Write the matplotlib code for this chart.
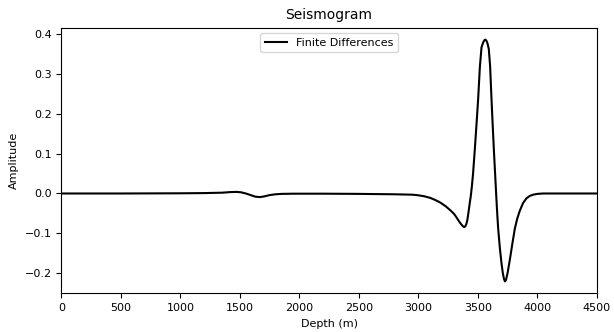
import matplotlib
matplotlib.use("Agg")
import matplotlib.pyplot as plt

# receiver trace, depth (m) vs amplitude
depth = [0, 500, 1000, 1200, 1350, 1420, 1470, 1510, 1550, 1590, 1630, 1670,
         1710, 1750, 1800, 1850, 1950, 2200, 2500, 2800, 2950, 3000, 3050,
         3100, 3140, 3181, 3230, 3265, 3300, 3321, 3345, 3363, 3375, 3385,
         3395, 3404, 3412, 3422, 3433, 3441, 3450, 3460, 3475, 3490, 3503,
         3517, 3531, 3545, 3555, 3562, 3570, 3580, 3592, 3603, 3615, 3623,
         3635, 3646, 3657, 3664, 3671, 3685, 3699, 3710, 3720, 3728, 3737,
         3750, 3769, 3790, 3811, 3832, 3853, 3880, 3909, 3937, 3965, 4000,
         4050, 4200, 4500]
amplitude = [0.0, 0.0, 0.0005, 0.001, 0.002, 0.0035, 0.004, 0.003, 0.0,
             -0.004, -0.008, -0.009, -0.007, -0.004, -0.002, -0.001, -0.0005,
             -0.0005, -0.001, -0.002, -0.003, -0.0045, -0.007, -0.011, -0.016,
             -0.022, -0.032, -0.041, -0.051, -0.060, -0.071, -0.078, -0.082,
             -0.084, -0.082, -0.076, -0.066, -0.046, -0.022, -0.006, 0.018,
             0.050, 0.112, 0.178, 0.238, 0.316, 0.366, 0.378, 0.3835, 0.385,
             0.3835, 0.377, 0.362, 0.320, 0.236, 0.183, 0.108, 0.045, -0.018,
             -0.055, -0.088, -0.136, -0.175, -0.199, -0.214, -0.220, -0.216,
             -0.199, -0.166, -0.126, -0.088, -0.062, -0.043, -0.024, -0.012,
             -0.006, -0.003, -0.001, 0.0, 0.0, 0.0]

fig, ax = plt.subplots(figsize=(6.14, 3.32), dpi=100)
ax.plot(depth, amplitude, color="black", lw=1.5, label="Finite Differences")
ax.set_xlim(0, 4500)
ax.set_title("Seismogram", fontsize=10)
ax.set_xlabel("Depth (m)", fontsize=8)
ax.set_ylabel("Amplitude", fontsize=8)
ax.tick_params(labelsize=8)
ax.legend(loc="upper center", fontsize=8)

fig.subplots_adjust(left=0.1, right=0.972, top=0.917, bottom=0.116)
fig.savefig("out.png", dpi=100)
